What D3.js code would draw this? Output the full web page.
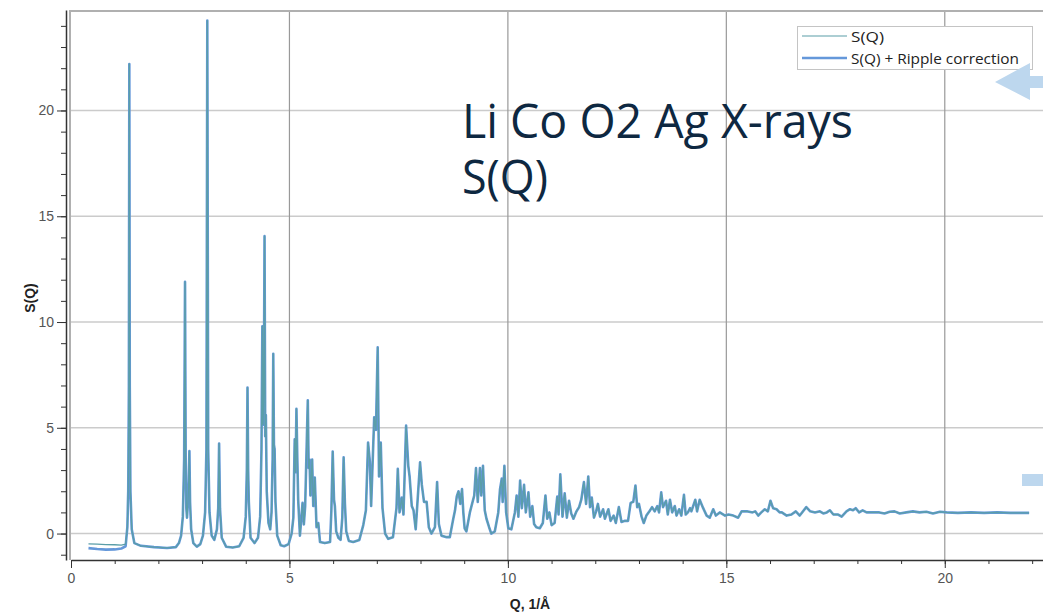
<!DOCTYPE html>
<html>
<head>
<meta charset="utf-8">
<script src="https://cdn.jsdelivr.net/npm/d3@7"></script>
<style>
  body { margin: 0; background: #fff; }
  .axis text { font-family: "Liberation Sans", Arial, sans-serif; font-size: 14px; fill: #555; }
  .axis path, .axis line { stroke: #333; }
</style>
</head>
<body>
<div id="chart"></div>
<script>
// Low-Q part, where the two curves differ
const qLow = [0.40, 0.60, 0.80, 1.00, 1.15, 1.25];
const sqLow = [-0.49, -0.50, -0.52, -0.53, -0.55, -0.50];
const rippleLow = [-0.69, -0.73, -0.76, -0.75, -0.71, -0.60];

// Shared part (both curves coincide from the first peak on)
const qMain = [
  1.29, 1.31, 1.325, 1.335, 1.345, 1.36, 1.39, 1.45, 1.6, 1.9, 2.2, 2.4, 2.47, 2.52, 2.56, 2.59, 2.61, 2.625, 2.64, 2.655,
  2.675, 2.695, 2.71, 2.725, 2.75, 2.8, 2.88, 2.96, 3.02, 3.07, 3.1, 3.12, 3.14, 3.17, 3.22, 3.28, 3.34, 3.37, 3.39, 3.41,
  3.45, 3.55, 3.7, 3.85, 3.95, 4.0, 4.025, 4.04, 4.055, 4.07, 4.11, 4.2, 4.28, 4.33, 4.36, 4.38, 4.395, 4.415, 4.43, 4.445,
  4.46, 4.48, 4.52, 4.56, 4.59, 4.615, 4.63, 4.645, 4.66, 4.68, 4.72, 4.8, 4.88, 4.98, 5.05, 5.09, 5.12, 5.14, 5.16, 5.18,
  5.2, 5.24, 5.3, 5.33, 5.36, 5.42, 5.44, 5.46, 5.48, 5.52, 5.545, 5.58, 5.62, 5.66, 5.7, 5.81, 5.93, 5.96, 5.99, 6.02,
  6.04, 6.07, 6.12, 6.17, 6.21, 6.24, 6.27, 6.3, 6.36, 6.46, 6.6, 6.69, 6.75, 6.8, 6.84, 6.87, 6.94, 6.98, 7.02, 7.05,
  7.09, 7.13, 7.19, 7.26, 7.37, 7.45, 7.48, 7.52, 7.57, 7.61, 7.67, 7.72, 7.75, 7.8, 7.84, 7.89, 7.99, 8.03, 8.08, 8.14,
  8.19, 8.25, 8.33, 8.38, 8.42, 8.48, 8.6, 8.67, 8.75, 8.79, 8.83, 8.87, 8.91, 8.95, 8.98, 9.01, 9.05, 9.13, 9.18, 9.23,
  9.27, 9.31, 9.36, 9.39, 9.43, 9.47, 9.51, 9.57, 9.62, 9.7, 9.78, 9.82, 9.86, 9.88, 9.92, 9.96, 10.01, 10.08, 10.16, 10.2,
  10.24, 10.28, 10.32, 10.37, 10.41, 10.47, 10.51, 10.56, 10.6, 10.65, 10.73, 10.8, 10.86, 10.9, 10.95, 11.0, 11.07, 11.13, 11.16, 11.2,
  11.25, 11.3, 11.35, 11.4, 11.45, 11.5, 11.57, 11.63, 11.68, 11.74, 11.79, 11.84, 11.88, 11.92, 11.97, 12.02, 12.06, 12.11, 12.18, 12.22,
  12.3, 12.35, 12.42, 12.47, 12.54, 12.6, 12.68, 12.75, 12.81, 12.87, 12.92, 12.96, 13.0, 13.06, 13.11, 13.17, 13.24, 13.3, 13.36, 13.42,
  13.46, 13.51, 13.55, 13.62, 13.66, 13.71, 13.76, 13.82, 13.86, 13.92, 13.97, 14.03, 14.07, 14.12, 14.17, 14.2, 14.29, 14.33, 14.39, 14.47,
  14.55, 14.62, 14.7, 14.76, 14.85, 14.97, 15.05, 15.16, 15.27, 15.35, 15.47, 15.6, 15.66, 15.73, 15.8, 15.88, 15.95, 16.01, 16.07, 16.15,
  16.22, 16.27, 16.38, 16.49, 16.59, 16.68, 16.83, 16.92, 17.03, 17.14, 17.22, 17.3, 17.37, 17.45, 17.56, 17.64, 17.75, 17.83, 17.9, 17.96,
  18.04, 18.12, 18.21, 18.36, 18.5, 18.62, 18.74, 18.85, 18.97, 19.12, 19.27, 19.42, 19.58, 19.73, 19.89, 20.04, 20.3, 20.6, 20.9, 21.2,
  21.5, 21.93
];
const sMain = [
  0.3, 2.0, 7.0, 22.2, 7.0, 2.0, 0.2, -0.45, -0.58, -0.64, -0.68, -0.64, -0.45, -0.1, 0.8, 3.5, 11.9, 3.5, 1.2, 0.75,
  1.4, 2.5, 3.9, 1.5, 0.2, -0.45, -0.62, -0.5, -0.1, 1.0, 4.0, 24.25, 4.0, 1.0, -0.1, -0.3, 0.2, 1.2, 4.26, 1.2,
  -0.2, -0.62, -0.66, -0.6, -0.2, 0.8, 3.0, 6.9, 3.0, 1.5, -0.2, -0.45, -0.2, 0.8, 4.0, 9.8, 5.15, 7.0, 14.06, 4.6,
  5.6, 2.0, 0.5, 0.2, 1.0, 3.5, 8.5, 4.2, 4.0, 1.5, -0.1, -0.55, -0.6, -0.5, 0.0, 0.75, 4.46, 2.9, 5.9, 3.6,
  1.6, -0.1, 1.45, 0.43, 1.3, 6.3, 3.1, 3.5, 1.8, 3.5, 1.3, 2.65, 0.3, 0.5, -0.4, -0.45, -0.4, 1.1, 3.88, 1.6,
  1.3, 0.1, -0.2, -0.3, 0.75, 3.6, 1.4, 0.1, -0.35, -0.4, -0.3, 0.4, 1.1, 4.3, 3.4, 1.3, 5.5, 4.9, 8.8, 2.7,
  4.3, 1.2, 0.0, -0.25, -0.17, 1.2, 3.06, 1.0, 1.7, 0.9, 5.1, 3.2, 2.7, 1.3, 1.1, 0.2, 3.37, 2.3, 1.5, 1.5,
  0.3, 0.0, 0.3, 2.43, 0.45, -0.1, -0.17, -0.17, 0.7, 1.1, 1.76, 2.0, 1.4, 2.1, 1.0, 0.25, 0.1, 1.0, 1.4, 1.8,
  3.1, 1.5, 3.1, 1.8, 3.2, 1.1, 0.7, 0.3, 0.0, 0.1, 1.0, 2.1, 2.6, 1.5, 3.2, 1.0, 0.25, 0.2, 1.0, 1.8,
  0.8, 2.5, 1.2, 2.3, 1.0, 1.95, 0.8, 1.3, 0.45, 0.3, 0.25, 0.5, 1.8, 0.7, 1.0, 0.4, 0.5, 1.75, 0.9, 2.8,
  0.8, 1.9, 0.75, 1.55, 0.95, 0.7, 1.05, 1.25, 1.6, 2.43, 1.4, 2.7, 1.25, 1.7, 0.75, 1.05, 1.4, 0.8, 1.15, 0.7,
  1.15, 0.6, 0.85, 0.5, 1.25, 0.55, 0.6, 0.6, 1.45, 1.5, 2.27, 1.25, 1.4, 0.8, 0.5, 0.85, 1.05, 1.25, 1.05, 1.3,
  1.0, 1.95, 1.25, 1.55, 0.9, 1.6, 1.0, 1.3, 0.85, 1.15, 0.85, 1.83, 0.9, 1.0, 1.2, 1.05, 1.6, 1.05, 1.6, 1.2,
  0.85, 0.75, 1.15, 0.85, 1.0, 0.85, 0.9, 0.85, 0.75, 1.05, 1.05, 1.0, 1.05, 0.85, 1.0, 1.15, 1.05, 1.55, 1.2, 1.15,
  1.0, 1.0, 0.85, 0.9, 1.05, 0.85, 1.25, 1.05, 1.0, 1.05, 0.95, 1.0, 1.1, 0.9, 0.9, 0.8, 1.05, 1.15, 1.1, 1.2,
  1.0, 1.1, 1.0, 1.0, 1.0, 0.95, 1.03, 1.05, 0.95, 1.0, 1.05, 1.0, 1.03, 0.95, 1.03, 1.0, 0.98, 1.0, 0.98, 1.0,
  0.98, 0.98
];

// Ticks and texts
const xTicks = [0, 5, 10, 15, 20];
const yTicks = [0, 5, 10, 15, 20];
const seriesNames = ["S(Q)", "S(Q) + Ripple correction"];
const titleLines = ["Li Co O2 Ag X-rays", "S(Q)"];

const width = 1043, height = 614;
const colorSq = "#5a9ea8", colorRipple = "#6598da";

const svg = d3.select("#chart")
  .append("svg")
  .attr("width", width)
  .attr("height", height);

const x = d3.scaleLinear().domain([0, 22.5]).range([71, 1054]);
const y = d3.scaleLinear().domain([-1.25, 24.75]).range([560, 10]);

// Gridlines
svg.append("g").selectAll("line")
  .data(yTicks)
  .join("line")
  .attr("x1", 70).attr("x2", width)
  .attr("y1", d => y(d)).attr("y2", d => y(d))
  .attr("stroke", "#cbcbcb").attr("stroke-width", 1.5);

svg.append("g").selectAll("line")
  .data(xTicks.filter(d => d > 0))
  .join("line")
  .attr("x1", d => x(d)).attr("x2", d => x(d))
  .attr("y1", 11).attr("y2", 560)
  .attr("stroke", "#999").attr("stroke-width", 1.2);

// Plot frame
svg.append("path")
  .attr("d", `M70,560V11H${width + 5}`)
  .attr("fill", "none")
  .attr("stroke", "#b0b0b0")
  .attr("stroke-width", 2);

// Axes
svg.append("g")
  .attr("class", "axis")
  .attr("transform", "translate(0,560)")
  .call(d3.axisBottom(x).tickValues(xTicks).tickSize(8).tickSizeOuter(0).tickPadding(5))
  .call(g => g.select(".domain").attr("stroke-width", 1.5));

svg.append("g")
  .attr("class", "axis")
  .attr("transform", "translate(0,560)")
  .call(d3.axisBottom(x).tickValues(d3.range(0, 23)).tickSize(4).tickSizeOuter(0).tickFormat(""))
  .call(g => g.select(".domain").remove());

svg.append("g")
  .attr("class", "axis")
  .attr("transform", "translate(66,0)")
  .call(d3.axisLeft(y).tickValues(yTicks).tickSize(9).tickSizeOuter(0).tickPadding(3))
  .call(g => g.select(".domain").attr("stroke-width", 1.5));

svg.append("g")
  .attr("class", "axis")
  .attr("transform", "translate(66,0)")
  .call(d3.axisLeft(y).tickValues(d3.range(-1, 25)).tickSize(5).tickSizeOuter(0).tickFormat(""))
  .call(g => g.select(".domain").remove());

// Axis titles
svg.append("text")
  .attr("x", 530).attr("y", 609)
  .attr("text-anchor", "middle")
  .style("font-family", "Liberation Sans, Arial, sans-serif")
  .style("font-size", "14px").style("font-weight", "bold").style("fill", "#222")
  .text("Q, 1/Å");

svg.append("text")
  .attr("transform", "translate(35,298) rotate(-90)")
  .attr("text-anchor", "middle")
  .style("font-family", "Liberation Sans, Arial, sans-serif")
  .style("font-size", "14px").style("font-weight", "bold").style("fill", "#222")
  .text("S(Q)");

// Curves
const sqData = qLow.map((q, i) => [q, sqLow[i]]).concat(qMain.map((q, i) => [q, sMain[i]]));
const rippleData = qLow.map((q, i) => [q, rippleLow[i]]).concat(qMain.map((q, i) => [q, sMain[i]]));

svg.append("clipPath").attr("id", "clip")
  .append("rect").attr("x", 70).attr("y", 10).attr("width", width).attr("height", 550);

const line = d3.line()
  .x(d => x(d[0]))
  .y(d => y(d[1]));

svg.append("path")
  .datum(rippleData)
  .attr("clip-path", "url(#clip)")
  .attr("fill", "none")
  .attr("stroke", colorRipple)
  .attr("stroke-width", 2.6)
  .attr("stroke-linejoin", "round")
  .attr("d", line);

svg.append("path")
  .datum(sqData)
  .attr("clip-path", "url(#clip)")
  .attr("fill", "none")
  .attr("stroke", colorSq)
  .attr("stroke-width", 1.3)
  .attr("stroke-linejoin", "round")
  .attr("d", line);

// Legend
const legend = svg.append("g");
legend.append("rect")
  .attr("x", 797.5).attr("y", 26.5).attr("width", 235).attr("height", 43)
  .attr("fill", "#fff").attr("stroke", "#c4c4c4");

legend.selectAll(".lg-line")
  .data(seriesNames)
  .join("line")
  .attr("x1", 802).attr("x2", 847)
  .attr("y1", (d, i) => 36 + i * 22).attr("y2", (d, i) => 36 + i * 22)
  .attr("stroke", (d, i) => i === 0 ? colorSq : colorRipple)
  .attr("stroke-width", (d, i) => i === 0 ? 1.2 : 2.4);

legend.selectAll(".lg-text")
  .data(seriesNames)
  .join("text")
  .attr("x", 851).attr("y", (d, i) => 42 + i * 22)
  .attr("textLength", (d, i) => i === 0 ? 33 : 168)
  .attr("lengthAdjust", "spacingAndGlyphs")
  .style("font-family", "Open Sans, Noto Sans, sans-serif")
  .style("font-size", "15px").style("fill", "#222")
  .text(d => d);

// Big title on the plot
svg.selectAll(".title")
  .data(titleLines)
  .join("text")
  .attr("x", 462).attr("y", (d, i) => 138 + i * 56)
  .attr("textLength", (d, i) => i === 0 ? 391 : 86)
  .attr("lengthAdjust", "spacingAndGlyphs")
  .style("font-family", "Open Sans, Noto Sans, sans-serif")
  .style("font-size", "47px").style("fill", "#0e2841")
  .text(d => d);

// Decorative arrows on the right edge
svg.append("path")
  .attr("d", "M995,82L1030,63V76H1043V88H1030V100Z")
  .attr("fill", "#bdd7ee");

svg.append("rect")
  .attr("x", 1022).attr("y", 474).attr("width", 21).attr("height", 12)
  .attr("fill", "#bdd7ee");
</script>
</body>
</html>
